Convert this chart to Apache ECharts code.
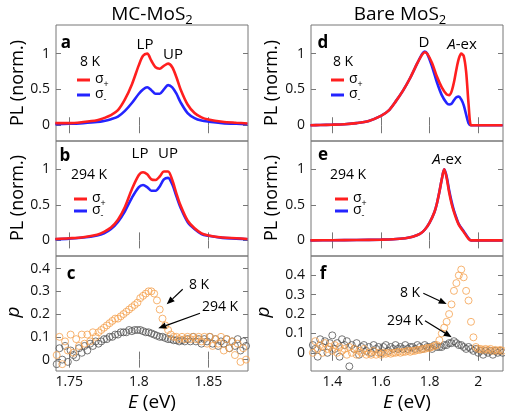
<!DOCTYPE html>
<html lang="en">
<head>
<meta charset="UTF-8">
<title>MC-MoS2 vs Bare MoS2</title>
<style>
  html, body { margin: 0; padding: 0; background: #fff; }
  #chart { width: 505px; height: 416px; }
</style>
</head>
<body>
<div id="chart"></div>
<script src="https://cdn.jsdelivr.net/npm/echarts@6/dist/echarts.min.js"></script>
<script>
// ---- data ----
// panels a, b (MC-MoS2 PL spectra)
var energyMC = [1.74, 1.75, 1.76, 1.77, 1.775, 1.78, 1.785, 1.79, 1.795, 1.8, 1.803, 1.806, 1.809, 1.812,
  1.815, 1.818, 1.821, 1.824, 1.827, 1.83, 1.835, 1.84, 1.845, 1.85, 1.86, 1.87, 1.878];
var plA_plus = [0.03, 0.03, 0.045, 0.07, 0.1, 0.14, 0.21, 0.36, 0.57, 0.84, 0.97, 1.0, 0.9, 0.81,
  0.79, 0.83, 0.86, 0.81, 0.67, 0.5, 0.29, 0.17, 0.11, 0.08, 0.05, 0.035, 0.025];
var plA_minus = [0.015, 0.02, 0.03, 0.045, 0.06, 0.085, 0.12, 0.2, 0.31, 0.44, 0.5, 0.53, 0.49, 0.44,
  0.44, 0.5, 0.56, 0.53, 0.44, 0.32, 0.17, 0.1, 0.065, 0.05, 0.03, 0.02, 0.015];
var plB_plus = [0.02, 0.03, 0.045, 0.08, 0.12, 0.18, 0.29, 0.47, 0.72, 0.92, 0.96, 0.93, 0.86, 0.85,
  0.9, 0.97, 0.97, 0.85, 0.66, 0.49, 0.28, 0.17, 0.1, 0.07, 0.04, 0.03, 0.02];
var plB_minus = [0.015, 0.025, 0.04, 0.07, 0.1, 0.16, 0.26, 0.41, 0.6, 0.75, 0.78, 0.75, 0.7, 0.7,
  0.76, 0.86, 0.88, 0.79, 0.62, 0.46, 0.26, 0.16, 0.09, 0.065, 0.035, 0.025, 0.015];

// panel d (bare MoS2, 8 K)
var energyD = [1.31, 1.35, 1.4, 1.45, 1.5, 1.55, 1.6, 1.63, 1.66, 1.69, 1.72, 1.75, 1.77, 1.78, 1.79,
  1.81, 1.83, 1.85, 1.87, 1.88, 1.89, 1.9, 1.91, 1.92, 1.93, 1.94, 1.95, 1.96, 1.97, 1.98, 2.0, 2.05, 2.1];
var plD_plus = [0, 0.003, 0.008, 0.015, 0.03, 0.06, 0.13, 0.2, 0.33, 0.48, 0.66, 0.87, 0.99, 1.02, 1.0,
  0.87, 0.68, 0.53, 0.43, 0.42, 0.47, 0.6, 0.78, 0.93, 1.0, 0.97, 0.75, 0.3, 0, 0, 0, 0, 0];
var plD_minus = [0, 0.003, 0.008, 0.015, 0.03, 0.06, 0.13, 0.2, 0.33, 0.48, 0.66, 0.87, 1.0, 1.03, 1.0,
  0.82, 0.6, 0.42, 0.31, 0.29, 0.3, 0.35, 0.39, 0.4, 0.36, 0.28, 0.15, 0.03, 0, 0, 0, 0, 0];

// panel e (bare MoS2, 294 K)
var energyE = [1.31, 1.4, 1.5, 1.6, 1.65, 1.7, 1.73, 1.76, 1.78, 1.8, 1.82, 1.83, 1.84, 1.85, 1.86,
  1.87, 1.88, 1.89, 1.9, 1.91, 1.92, 1.94, 1.96, 1.97, 2.0, 2.1];
var plE_plus = [0, 0.002, 0.005, 0.01, 0.015, 0.03, 0.05, 0.09, 0.15, 0.25, 0.4, 0.52, 0.68, 0.86, 1.0,
  0.88, 0.68, 0.52, 0.4, 0.3, 0.22, 0.12, 0.02, 0, 0, 0];
var plE_minus = [0, 0.002, 0.005, 0.01, 0.015, 0.03, 0.05, 0.09, 0.15, 0.25, 0.4, 0.52, 0.68, 0.86, 1.0,
  0.9, 0.71, 0.55, 0.42, 0.32, 0.23, 0.13, 0.03, 0, 0, 0];

// panel c (MC-MoS2 polarization)
var energyC = [1.741, 1.743, 1.745, 1.747, 1.749, 1.751, 1.753, 1.755, 1.757, 1.759,
  1.761, 1.763, 1.765, 1.767, 1.769, 1.771, 1.773, 1.775, 1.777, 1.779,
  1.781, 1.783, 1.785, 1.787, 1.789, 1.791, 1.793, 1.795, 1.797, 1.799,
  1.801, 1.803, 1.805, 1.807, 1.809, 1.811, 1.813, 1.815, 1.817, 1.819,
  1.821, 1.823, 1.825, 1.827, 1.829, 1.831, 1.833, 1.835, 1.837, 1.839,
  1.841, 1.843, 1.845, 1.847, 1.849, 1.851, 1.853, 1.855, 1.857, 1.859,
  1.861, 1.863, 1.865, 1.867, 1.869, 1.871, 1.873, 1.875, 1.877];
var polC_8K = [0.02, 0.1, -0.02, 0.08, 0.04, 0.11, 0.03, 0.09, 0.06, 0.11,
  0.07, 0.11, 0.08, 0.12, 0.1, 0.12, 0.13, 0.14, 0.15, 0.16,
  0.17, 0.18, 0.18, 0.19, 0.2, 0.21, 0.22, 0.23, 0.24, 0.25,
  0.27, 0.28, 0.29, 0.3, 0.3, 0.29, 0.26, 0.22, 0.18, 0.15,
  0.13, 0.11, 0.1, 0.1, 0.09, 0.1, 0.09, 0.1, 0.09, 0.1,
  0.09, 0.1, 0.08, 0.1, 0.07, 0.1, 0.06, 0.09, 0.07, 0.1,
  0.04, 0.09, 0.05, 0.08, 0.02, 0.07, -0.01, 0.05, 0.0];
var polC_294K = [-0.02, 0.05, 0.0, 0.06, -0.01, 0.04, 0.02, 0.01, 0.05, 0.03,
  0.06, 0.04, 0.07, 0.06, 0.08, 0.07, 0.08, 0.09, 0.09, 0.1,
  0.1, 0.11, 0.11, 0.12, 0.12, 0.12, 0.13, 0.125, 0.13, 0.13,
  0.13, 0.125, 0.12, 0.12, 0.115, 0.11, 0.105, 0.1, 0.1, 0.095,
  0.09, 0.09, 0.085, 0.085, 0.08, 0.085, 0.08, 0.09, 0.08, 0.1,
  0.08, 0.09, 0.07, 0.09, 0.08, 0.1, 0.07, 0.09, 0.06, 0.08,
  0.07, 0.09, 0.05, 0.08, 0.06, 0.09, 0.04, 0.08, 0.06];

// panel f (bare MoS2 polarization)
var energyF = [1.31, 1.32, 1.33, 1.34, 1.35, 1.36, 1.37, 1.38, 1.39, 1.4,
  1.41, 1.42, 1.43, 1.44, 1.45, 1.46, 1.47, 1.48, 1.49, 1.5,
  1.51, 1.52, 1.53, 1.54, 1.55, 1.56, 1.57, 1.58, 1.59, 1.6,
  1.61, 1.62, 1.63, 1.64, 1.65, 1.66, 1.67, 1.68, 1.69, 1.7,
  1.71, 1.72, 1.73, 1.74, 1.75, 1.76, 1.77, 1.78, 1.79, 1.8,
  1.81, 1.82, 1.83, 1.84, 1.85, 1.86, 1.87, 1.88, 1.89, 1.9,
  1.91, 1.92, 1.93, 1.94, 1.95, 1.96, 1.97, 1.98, 1.99, 2.0,
  2.01, 2.02, 2.03, 2.04, 2.05, 2.06, 2.07, 2.08, 2.09, 2.1];
var polF_8K = [0.04, 0.0, 0.06, 0.02, 0.04, 0.0, 0.05, 0.02, 0.03, 0.01,
  0.04, 0.0, 0.03, 0.01, 0.02, -0.01, 0.03, 0.0, 0.02, -0.01,
  0.01, 0.0, 0.02, -0.01, 0.0, -0.01, 0.01, -0.01, 0.0, -0.01,
  0.0, -0.005, 0.0, -0.005, 0.0, 0.0, 0.005, 0.0, 0.005, 0.005,
  0.01, 0.005, 0.01, 0.01, 0.015, 0.015, 0.02, 0.02, 0.025, 0.025,
  0.03, 0.035, 0.04, 0.065, 0.1, 0.13, 0.16, 0.2, 0.25, 0.32,
  0.36, 0.4, 0.43, 0.39, 0.32, 0.27, 0.16, 0.08, 0.03, 0.02,
  0.02, 0.015, 0.02, 0.015, 0.02, 0.01, 0.015, 0.01, 0.015, 0.01];
var polF_294K = [-0.03, 0.04, 0.02, -0.02, 0.07, 0.03, 0.06, 0.0, 0.05, 0.09,
  0.02, 0.05, -0.02, 0.07, 0.04, 0.06, -0.07, 0.04, 0.02, 0.05,
  -0.01, 0.03, 0.04, 0.01, 0.03, 0.0, 0.04, 0.02, 0.03, 0.0,
  0.03, 0.04, 0.01, 0.03, 0.02, 0.04, 0.02, 0.03, 0.02, 0.04,
  0.02, 0.03, 0.03, 0.02, 0.04, 0.03, 0.02, 0.04, 0.03, 0.03,
  0.02, 0.04, 0.03, 0.03, 0.03, 0.04, 0.04, 0.05, 0.05, 0.06,
  0.05, 0.04, 0.04, 0.03, 0.02, 0.03, 0.02, 0.01, 0.02, 0.0,
  0.01, -0.01, 0.01, 0.0, 0.01, -0.01, 0.01, 0.0, 0.01, 0.0];

// tick labels
var ticksMC = [1.75, 1.8, 1.85];
var ticksBare = [1.4, 1.6, 1.8, 2];
var ticksPL = [0, 0.5, 1];
var ticksPol = [0, 0.1, 0.2, 0.3, 0.4];

// ---- layout ----
var FONT = '"Open Sans", "DejaVu Sans", sans-serif';
var RED = '#ff1f1f', BLUE = '#2424ff', ORANGE = '#f5a14f', GREY = '#555555';
var AX = '#777777';

var cols = [{ left: 56, width: 192 }, { left: 311, width: 192 }];
var rows = [{ top: 25, height: 116 }, { top: 141, height: 115 }, { top: 256, height: 115 }];
var xRange = [[1.7405, 1.8784], [1.3125, 2.1016]];
var yRange = [[-0.22, 1.4], [-0.22, 1.4], [-0.05, 0.455]];
var yRangeF = [-0.094, 0.5];

var grids = [], xAxes = [], yAxes = [], series = [];

function addPanel(col, row) {
  var g = grids.length;
  grids.push({ left: cols[col].left, width: cols[col].width, top: rows[row].top, height: rows[row].height,
    show: true, borderColor: AX, borderWidth: 1, backgroundColor: 'transparent' });
  var xt = col === 0 ? ticksMC : ticksBare;
  var yr = (col === 1 && row === 2) ? yRangeF : yRange[row];
  var yt = row === 2 ? ticksPol : ticksPL;
  [false, true].forEach(function (top) {
    xAxes.push({ gridIndex: g, type: 'value', position: top ? 'top' : 'bottom',
      min: xRange[col][0], max: xRange[col][1],
      axisLine: { show: false }, splitLine: { show: false },
      axisTick: { show: true, inside: true, length: 8, customValues: xt, lineStyle: { color: AX } },
      axisLabel: { show: !top && row === 2, customValues: xt, fontSize: 14, fontFamily: FONT, color: '#111', margin: 4 }
    });
    yAxes.push({ gridIndex: g, type: 'value', position: top ? 'right' : 'left',
      min: yr[0], max: yr[1],
      axisLine: { show: false }, splitLine: { show: false },
      axisTick: { show: true, inside: true, length: 5, customValues: yt, lineStyle: { color: AX } },
      axisLabel: { show: !top, customValues: yt, fontSize: 14, fontFamily: FONT, color: '#111', margin: 6 }
    });
  });
  return g;
}

function zip(xs, ys) { return xs.map(function (x, i) { return [x, ys[i]]; }); }

function line(g, xs, ys, color) {
  series.push({ type: 'line', xAxisIndex: 2 * g, yAxisIndex: 2 * g, data: zip(xs, ys),
    showSymbol: false, smooth: 0.3, silent: true, lineStyle: { color: color, width: 2.6 } });
}
function dots(g, xs, ys, color) {
  series.push({ type: 'scatter', xAxisIndex: 2 * g, yAxisIndex: 2 * g, data: zip(xs, ys),
    symbol: 'circle', symbolSize: 7, silent: true,
    itemStyle: { color: 'rgba(0,0,0,0)', borderColor: color, borderWidth: 1 } });
}

var gA = addPanel(0, 0), gB = addPanel(0, 1), gC = addPanel(0, 2);
var gD = addPanel(1, 0), gE = addPanel(1, 1), gF = addPanel(1, 2);

line(gA, energyMC, plA_minus, BLUE); line(gA, energyMC, plA_plus, RED);
line(gB, energyMC, plB_minus, BLUE); line(gB, energyMC, plB_plus, RED);
line(gD, energyD, plD_minus, BLUE); line(gD, energyD, plD_plus, RED);
line(gE, energyE, plE_minus, BLUE); line(gE, energyE, plE_plus, RED);
dots(gC, energyC, polC_294K, GREY); dots(gC, energyC, polC_8K, ORANGE);
dots(gF, energyF, polF_294K, GREY); dots(gF, energyF, polF_8K, ORANGE);

// ---- annotations ----
var ctx = document.createElement('canvas').getContext('2d');
function tw(s, size, weight) { ctx.font = (weight || 'normal') + ' ' + size + 'px ' + FONT; return ctx.measureText(s).width; }

var gfx = [];
function txt(x, y, s, size, extra) {
  var st = { text: s, fontSize: size, fontFamily: FONT, fill: '#000', align: 'center', verticalAlign: 'middle' };
  for (var k in extra) st[k] = extra[k];
  gfx.push({ type: 'text', x: x, y: y, style: st, z: 10 });
}
function subText(cx, y, main, sub, size, subSize) {
  var w1 = tw(main, size), w2 = tw(sub, subSize);
  var x0 = cx - (w1 + w2) / 2;
  txt(x0, y, main, size, { align: 'left' });
  txt(x0 + w1, y + size * 0.3, sub, subSize, { align: 'left' });
}
function legend(x, yTop, yBot) {
  [[yTop, RED, '+'], [yBot, BLUE, '-']].forEach(function (r) {
    gfx.push({ type: 'line', shape: { x1: x, y1: r[0], x2: x + 13, y2: r[0] }, style: { stroke: r[1], lineWidth: 3 }, z: 10 });
    txt(x + 18, r[0] - 1, '\u03c3', 14, { align: 'left' });
    txt(x + 18 + tw('\u03c3', 14), r[0] + 4, r[2], 9, { align: 'left' });
  });
}
function arrow(x1, y1, x2, y2) {
  var a = Math.atan2(y2 - y1, x2 - x1), L = 8, W = 3.2;
  var bx = x2 - L * Math.cos(a), by = y2 - L * Math.sin(a);
  gfx.push({ type: 'line', shape: { x1: x1, y1: y1, x2: bx, y2: by }, style: { stroke: '#000', lineWidth: 1.2 }, z: 10 });
  gfx.push({ type: 'polygon', shape: { points: [[x2, y2],
    [bx + W * Math.sin(a), by - W * Math.cos(a)], [bx - W * Math.sin(a), by + W * Math.cos(a)]] },
    style: { fill: '#000' }, z: 10 });
}
var italic = { i: { fontStyle: 'italic', fontSize: 15, fontFamily: FONT } };

// titles
subText(152, 15, 'MC-MoS', '2', 19, 13);
subText(400, 15, 'Bare MoS', '2', 19, 13);

// y-axis names
[[18, 83], [18, 198], [272, 83], [272, 198]].forEach(function (p) {
  gfx.push({ type: 'text', x: p[0], y: p[1], rotation: Math.PI / 2,
    style: { text: 'PL (norm.)', fontSize: 18, fontFamily: FONT, fill: '#000', align: 'center', verticalAlign: 'middle' } });
});
[[14, 312], [264, 312]].forEach(function (p) {
  gfx.push({ type: 'text', x: p[0], y: p[1], rotation: Math.PI / 2,
    style: { text: 'p', fontSize: 19, fontStyle: 'italic', fontFamily: FONT, fill: '#000', align: 'center', verticalAlign: 'middle' } });
});

// x-axis names
[152, 407].forEach(function (cx) {
  txt(cx, 403, '{i|E} (eV)', 19, { rich: { i: { fontStyle: 'italic', fontSize: 19, fontFamily: FONT } } });
});

// panel letters
[['a', 66, 43], ['b', 65, 156], ['c', 71, 274], ['d', 323, 43], ['e', 323, 155], ['f', 323, 274]].forEach(function (p) {
  txt(p[1], p[2], p[0], 17, { fontWeight: 'bold' });
});

// panel a
txt(90, 62, '8 K', 14);
legend(77, 80, 95);
txt(145, 45, 'LP', 15);
txt(173, 55, 'UP', 15);
// panel b
txt(89, 175, '294 K', 14);
legend(74, 199, 211);
txt(140, 154, 'LP', 15);
txt(168, 154, 'UP', 15);
// panel d
txt(343, 62, '8 K', 14);
legend(331, 80, 95);
txt(424, 43, 'D', 15);
txt(462, 45, '{i|A}-ex', 15, { rich: italic });
// panel e
txt(348, 175, '294 K', 14);
legend(335, 199, 211);
txt(447, 160, '{i|A}-ex', 15, { rich: italic });
// panel c
txt(199, 285, '8 K', 14);
arrow(182.7, 289.3, 166.7, 304.3);
txt(220, 307, '294 K', 14);
arrow(200, 313.3, 158.3, 328.3);
// panel f
txt(410, 293, '8 K', 14);
arrow(423.3, 293.3, 446.7, 304);
txt(405, 321, '294 K', 14);
arrow(425, 320.7, 451.7, 337.3);

var chart = echarts.init(document.getElementById('chart'), null, { renderer: 'canvas' });
chart.setOption({
  animation: false,
  backgroundColor: '#fff',
  textStyle: { fontFamily: FONT },
  grid: grids,
  xAxis: xAxes,
  yAxis: yAxes,
  series: series,
  graphic: gfx
});
</script>
</body>
</html>
